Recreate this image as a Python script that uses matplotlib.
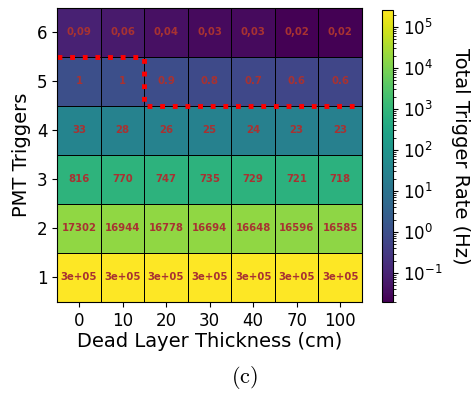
import numpy as np
import matplotlib
matplotlib.use("Agg")
import matplotlib.pyplot as plt
from matplotlib.colors import LogNorm

# dead layer thickness (cm) along x, number of PMT triggers along y
thickness = ["0", "10", "20", "30", "40", "70", "100"]
triggers = [1, 2, 3, 4, 5, 6]

# total trigger rate (Hz), one row per PMT trigger count
rate_1 = [260000, 260000, 260000, 260000, 260000, 260000, 260000]
rate_2 = [17302, 16944, 16778, 16694, 16648, 16596, 16585]
rate_3 = [816, 770, 747, 735, 729, 721, 718]
rate_4 = [33, 28, 26, 25, 24, 23, 23]
rate_5 = [1.0, 1.0, 0.9, 0.8, 0.7, 0.6, 0.6]
rate_6 = [0.09, 0.06, 0.04, 0.03, 0.03, 0.02, 0.02]

# cell labels as printed in the figure
labels_1 = ["3e+05"] * 7
labels_2 = [str(v) for v in rate_2]
labels_3 = [str(v) for v in rate_3]
labels_4 = [str(v) for v in rate_4]
labels_5 = ["1", "1", "0.9", "0.8", "0.7", "0.6", "0.6"]
labels_6 = ["0,09", "0,06", "0,04", "0,03", "0,03", "0,02", "0,02"]

rates = np.array([rate_1, rate_2, rate_3, rate_4, rate_5, rate_6])
labels = [labels_1, labels_2, labels_3, labels_4, labels_5, labels_6]

plt.rcParams["mathtext.fontset"] = "cm"

fig = plt.figure(figsize=(4.77, 3.93), dpi=100)
ax = fig.add_axes([0.12, 0.232, 0.639, 0.748])
cax = fig.add_axes([0.80, 0.232, 0.024, 0.743])

xe = np.arange(len(thickness) + 1) - 0.5
ye = np.arange(len(triggers) + 1) + 0.5
mesh = ax.pcolormesh(xe, ye, rates, cmap="viridis",
                     norm=LogNorm(vmin=rates.min(), vmax=rates.max()),
                     edgecolors="black", linewidth=0.6)

for i in range(len(triggers)):
    for j in range(len(thickness)):
        ax.text(j, triggers[i], labels[i][j], ha="center", va="center",
                color="#a83232", fontsize=7.3, fontweight="bold")

# red dotted boundary
ax.plot([-0.5, 1.5, 1.5, 6.5], [5.5, 5.5, 4.5, 4.5], color="red",
        linestyle=(0, (1, 1.6)), linewidth=3.5, clip_on=False)

ax.set_xlim(-0.5, 6.5)
ax.set_ylim(0.5, 6.5)
ax.set_xticks(range(len(thickness)))
ax.set_xticklabels(thickness)
ax.set_yticks(triggers)
ax.tick_params(labelsize=12)
ax.set_xlabel("Dead Layer Thickness (cm)", fontsize=14, labelpad=2)
ax.set_ylabel("PMT Triggers", fontsize=14)

cb = fig.colorbar(mesh, cax=cax)
cb.ax.tick_params(labelsize=12)
cb.set_label("Total Trigger Rate (Hz)", fontsize=14, rotation=270, labelpad=20)

fig.text(0.513, 0.04, r"$\mathrm{(c)}$", ha="center", va="center", fontsize=16)

fig.savefig("out.png", dpi=100)
